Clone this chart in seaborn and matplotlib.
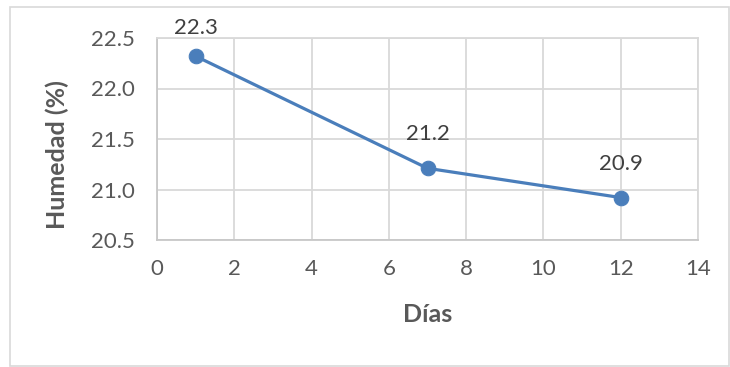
import matplotlib
matplotlib.use("Agg")
import matplotlib.pyplot as plt
import seaborn as sns
import pandas as pd
from matplotlib.patches import Rectangle

# Moisture content over storage days
dias = [1, 7, 12]
humedad = [22.32, 21.21, 20.92]
etiquetas = ["22.3", "21.2", "20.9"]
x_ticks = [0, 2, 4, 6, 8, 10, 12, 14]
y_ticks = [20.5, 21.0, 21.5, 22.0, 22.5]

df = pd.DataFrame({"Días": dias, "Humedad": humedad})

sns.set_theme(style="white")
plt.rcParams["font.family"] = ["Lato", "DejaVu Sans"]

fig = plt.figure(figsize=(7.3, 3.67), dpi=100)
ax_h_px = 240 - 38
ax = fig.add_axes([157 / 730, 1 - 240 / 367, (698 - 157) / 730, ax_h_px / 367])

line_color = "#4a7ebb"
sns.lineplot(data=df, x="Días", y="Humedad", ax=ax, color=line_color,
             linewidth=2.3, marker="o", markersize=10.5,
             markeredgecolor=line_color, markerfacecolor=line_color)

ax.set_xlim(0, 14)
ax.set_ylim(20.5, 22.5)

# Value labels above each point, kept from running too far above the plot area
y0, y1 = ax.get_ylim()
for x, y, t in zip(dias, humedad, etiquetas):
    room_pt = (y1 - y) / (y1 - y0) * ax_h_px * 0.72
    off = min(24.5, room_pt + 7.5)
    ax.annotate(t, (x, y), xytext=(0, off), textcoords="offset points",
                ha="center", va="center", fontsize=16, color="#404040")

ax.set_xticks(x_ticks)
ax.set_yticks(y_ticks)
ax.set_xticklabels([str(v) for v in x_ticks])
ax.set_yticklabels([f"{v:.1f}" for v in y_ticks])
ax.grid(True, color="#d9d9d9", linewidth=1.3)
ax.set_axisbelow(True)
for s in ax.spines.values():
    s.set_color("#d9d9d9")
    s.set_linewidth(1.3)
ax.spines["bottom"].set_color("#c8c8c8")
ax.spines["left"].set_color("#c8c8c8")
ax.tick_params(axis="both", length=0, labelsize=16, labelcolor="#595959")
ax.tick_params(axis="x", pad=14)
ax.tick_params(axis="y", pad=16)

ax.set_xlabel("Días", fontsize=18, fontweight="bold", color="#595959", va="center")
ax.xaxis.set_label_coords(0.5, (240 - 315) / 202)
ax.set_ylabel("Humedad (%)", fontsize=18, fontweight="bold", color="#595959", va="center")
ax.yaxis.set_label_coords((57 - 157) / 541, (240 - 155) / 202)

# Outer chart border
fig.patches.append(Rectangle((10 / 730, 1 / 367), 719 / 730, 359 / 367,
                             transform=fig.transFigure, fill=False,
                             edgecolor="#d9d9d9", linewidth=1.2))

fig.savefig("out.png", dpi=100)
